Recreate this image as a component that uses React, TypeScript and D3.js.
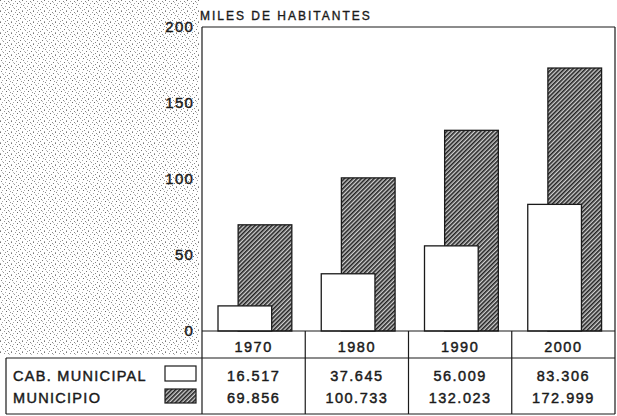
import * as d3 from "d3"

const years = ["1970", "1980", "1990", "2000"]
const cabMunicipal = [16.517, 37.645, 56.009, 83.306]
const municipio = [69.856, 100.733, 132.023, 172.999]
const yTicks = [0, 50, 100, 150, 200]
const seriesNames = ["CAB. MUNICIPAL", "MUNICIPIO"]

const W = 617
const H = 416
const fmt = (v: number) => v.toFixed(3)

// fixed dot layout for the paper texture tile (11x11)
const speckleDots: [number, number, string][] = [
  [0, 0, "#777"], [4, 1, "#999"], [8, 1, "#888"], [2, 3, "#aaa"], [6, 3, "#666"],
  [10, 4, "#999"], [1, 5, "#888"], [5, 6, "#aaa"], [9, 7, "#777"], [3, 8, "#999"],
  [7, 9, "#888"], [0, 10, "#aaa"], [5, 10, "#999"], [9, 2, "#bbb"], [2, 7, "#bbb"],
]

export default function App() {
  const left = 202
  const right = 615
  const top = 27
  const zero = 331
  const tableTop = 358
  const tableBottom = 414
  const tableLeft = 6

  const x = d3.scaleBand<string>().domain(years).range([left, right]).padding(0)
  const y = d3.scaleLinear().domain([0, 200]).range([zero, top])
  const bw = x.bandwidth()
  const barW = bw * 0.52
  const font = "'Liberation Sans', Arial, sans-serif"
  const ink = "#1a1a1a"
  const textStyle = { stroke: ink, strokeWidth: 0.45 }

  return (
    <svg
      width={W}
      height={H}
      style={{ position: "absolute", left: 0, top: 0, background: "#fff" }}
      fontFamily={font}
    >
      <defs>
        <pattern id="hatch" patternUnits="userSpaceOnUse" width={3} height={3} patternTransform="rotate(45)">
          <rect width={3} height={3} fill="#cfcfcf" />
          <line x1={0.8} y1={0} x2={0.8} y2={3} stroke="#222" strokeWidth={1.6} />
        </pattern>
        <pattern id="speckle" patternUnits="userSpaceOnUse" width={11} height={11}>
          {speckleDots.map(([dx, dy, c], i) => (
            <rect key={i} x={dx} y={dy} width={1} height={1} fill={c} />
          ))}
        </pattern>
      </defs>

      {/* scanned-paper texture on the left */}
      <rect x={0} y={0} width={left - 3} height={tableTop - 3} fill="url(#speckle)" />

      {/* title */}
      <text x={200} y={20} fontSize={12} letterSpacing={2} fill={ink} style={{ stroke: ink, strokeWidth: 0.35 }}>
        MILES DE HABITANTES
      </text>

      {/* y tick labels */}
      {yTicks.map((t) => (
        <text
          key={t}
          x={194}
          y={y(t)}
          dy="0.36em"
          textAnchor="end"
          fontSize={15}
          letterSpacing={1.2}
          fill={ink}
          style={textStyle}
        >
          {t}
        </text>
      ))}

      {/* bars: hatched behind, white in front */}
      {years.map((yr, i) => {
        const x0 = x(yr) ?? 0
        return (
          <g key={yr}>
            <rect
              x={x0 + bw * 0.35}
              y={y(municipio[i])}
              width={barW}
              height={zero - y(municipio[i])}
              fill="url(#hatch)"
              stroke={ink}
              strokeWidth={1.3}
            />
            <rect
              x={x0 + bw * 0.155}
              y={y(cabMunicipal[i])}
              width={barW}
              height={zero - y(cabMunicipal[i])}
              fill="#fff"
              stroke={ink}
              strokeWidth={1.3}
            />
          </g>
        )
      })}

      {/* frame and table grid */}
      <g stroke={ink} strokeWidth={1.2} fill="none">
        <line x1={left} y1={top} x2={right} y2={top} />
        <line x1={left} y1={top} x2={left} y2={tableBottom} />
        <line x1={right} y1={top} x2={right} y2={tableBottom} />
        <line x1={left} y1={zero} x2={right} y2={zero} />
        <line x1={tableLeft} y1={tableTop} x2={right} y2={tableTop} />
        <line x1={tableLeft} y1={tableBottom} x2={right} y2={tableBottom} />
        <line x1={tableLeft} y1={tableTop} x2={tableLeft} y2={tableBottom} />
        {years.slice(1).map((yr) => (
          <line key={yr} x1={x(yr)} y1={zero} x2={x(yr)} y2={tableBottom} />
        ))}
      </g>

      {/* year row */}
      {years.map((yr) => (
        <text
          key={yr}
          x={(x(yr) ?? 0) + bw / 2}
          y={352}
          textAnchor="middle"
          fontSize={14.5}
          letterSpacing={1.5}
          fill={ink}
          style={textStyle}
        >
          {yr}
        </text>
      ))}

      {/* legend cells */}
      {seriesNames.map((name, i) => (
        <text key={name} x={13} y={i === 0 ? 381 : 403} fontSize={14.5} letterSpacing={1.3} fill={ink} style={textStyle}>
          {name}
        </text>
      ))}
      <rect x={165} y={366} width={31} height={15} fill="#fff" stroke={ink} strokeWidth={1.2} />
      <rect x={165} y={389} width={31} height={14} fill="url(#hatch)" stroke={ink} strokeWidth={1.2} />

      {/* value rows */}
      {years.map((yr, i) => (
        <g key={yr}>
          <text
            x={(x(yr) ?? 0) + bw / 2}
            y={381}
            textAnchor="middle"
            fontSize={14.5}
            letterSpacing={1.5}
            fill={ink}
            style={textStyle}
          >
            {fmt(cabMunicipal[i])}
          </text>
          <text
            x={(x(yr) ?? 0) + bw / 2}
            y={403}
            textAnchor="middle"
            fontSize={14.5}
            letterSpacing={1.5}
            fill={ink}
            style={textStyle}
          >
            {fmt(municipio[i])}
          </text>
        </g>
      ))}
    </svg>
  )
}
